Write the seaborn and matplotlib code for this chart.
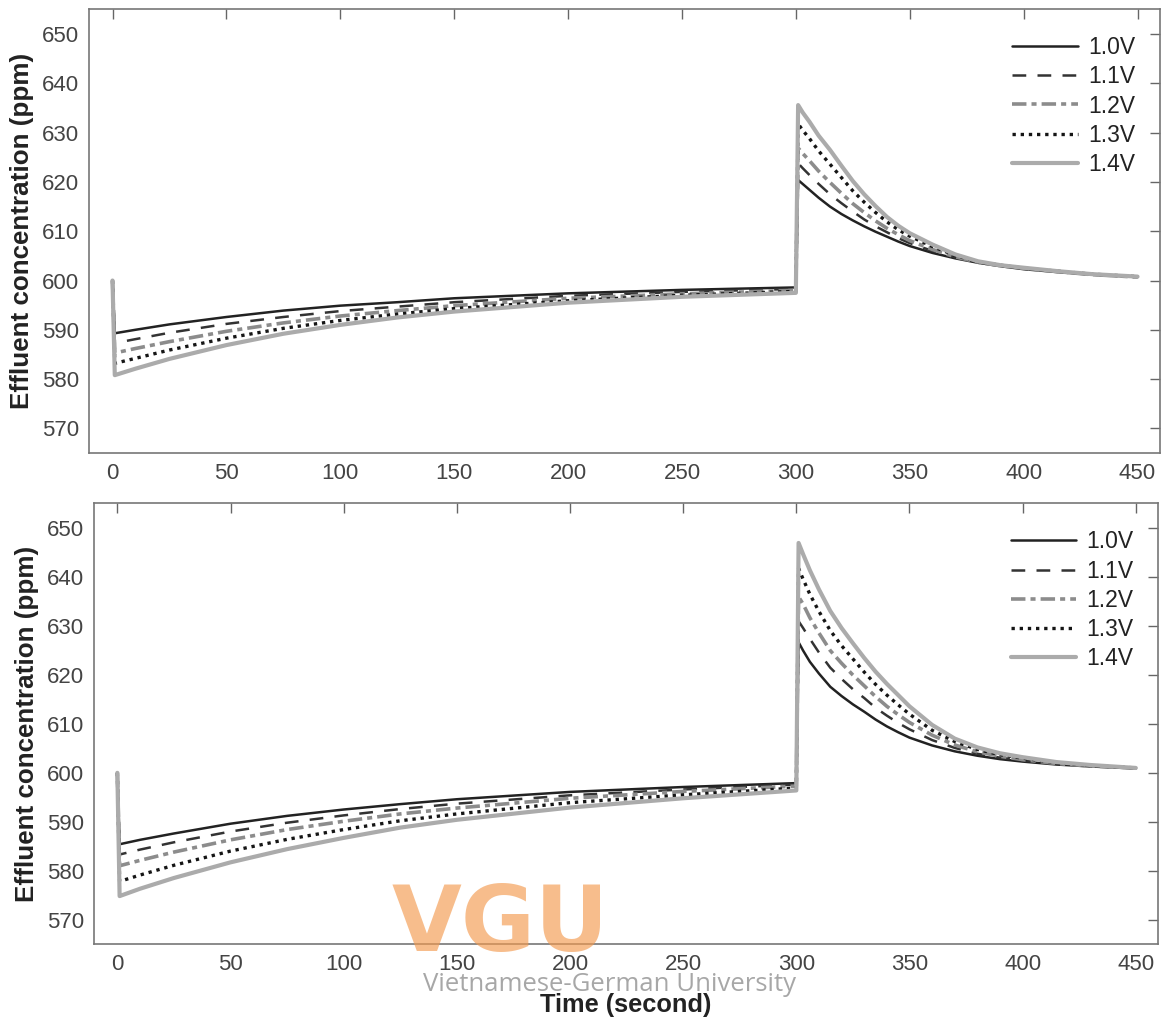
import matplotlib
matplotlib.use("Agg")
import matplotlib.pyplot as plt
import numpy as np
import pandas as pd
import seaborn as sns

# ---------------- data ----------------
time_s = [0, 1, 10, 25, 50, 75, 100, 125, 150, 200, 250, 300,
          301, 303, 306, 310, 315, 320, 325, 330, 335, 340, 345, 350,
          360, 370, 380, 390, 400, 415, 430, 450]

series_labels = ["1.0V", "1.1V", "1.2V", "1.3V", "1.4V"]

# upper panel
top_10 = [600, 589.3, 590.0, 591.1, 592.6, 593.9, 594.9, 595.6, 596.4, 597.4, 598.1, 598.6,
          620.4, 619.6, 618.4, 616.8, 615.0, 613.5, 612.2, 611.0, 609.9, 608.9, 607.9, 607.0,
          605.6, 604.5, 603.6, 602.9, 602.3, 601.7, 601.2, 600.7]
top_11 = [600, 587.3, 588.1, 589.4, 591.2, 592.6, 593.8, 594.7, 595.6, 596.9, 597.7, 598.3,
          623.8, 622.8, 621.4, 619.6, 617.5, 615.7, 614.0, 612.4, 611.0, 609.8, 608.6, 607.6,
          606.0, 604.7, 603.7, 603.0, 602.4, 601.8, 601.2, 600.7]
top_12 = [600, 585.3, 586.2, 587.6, 589.7, 591.4, 592.8, 593.9, 594.9, 596.4, 597.3, 598.0,
          626.9, 625.8, 624.3, 622.2, 619.9, 617.7, 615.6, 613.8, 612.1, 610.6, 609.3, 608.1,
          606.3, 604.8, 603.7, 603.0, 602.5, 601.8, 601.2, 600.7]
top_13 = [600, 583.2, 584.2, 585.9, 588.3, 590.3, 591.9, 593.2, 594.3, 595.9, 597.0, 597.8,
          631.8, 630.5, 628.8, 626.3, 623.6, 620.9, 618.2, 615.9, 613.8, 611.9, 610.3, 609.0,
          606.9, 605.1, 603.8, 603.1, 602.5, 601.9, 601.3, 600.8]
top_14 = [600, 580.8, 582.1, 584.1, 586.9, 589.2, 591.0, 592.5, 593.7, 595.5, 596.7, 597.5,
          635.6, 634.1, 632.2, 629.4, 626.5, 623.3, 620.2, 617.5, 615.1, 612.9, 611.1, 609.6,
          607.3, 605.3, 603.9, 603.1, 602.6, 601.9, 601.3, 600.8]

# lower panel
bot_10 = [600, 585.4, 586.3, 587.6, 589.6, 591.2, 592.5, 593.6, 594.6, 596.1, 597.1, 597.9,
          626.7, 625.0, 622.7, 620.3, 617.6, 615.7, 614.0, 612.5, 610.9, 609.5, 608.3, 607.2,
          605.6, 604.4, 603.5, 602.8, 602.3, 601.7, 601.3, 600.9]
bot_11 = [600, 583.3, 584.3, 585.8, 588.0, 589.8, 591.3, 592.6, 593.7, 595.4, 596.6, 597.6,
          631.0, 629.6, 627.4, 624.6, 621.5, 619.2, 617.1, 615.3, 613.3, 611.7, 610.2, 608.9,
          606.7, 605.1, 603.9, 603.1, 602.5, 601.8, 601.4, 600.9]
bot_12 = [600, 581.0, 582.1, 583.8, 586.3, 588.4, 590.1, 591.6, 592.8, 594.8, 596.2, 597.3,
          636.0, 634.5, 631.7, 628.6, 625.0, 622.4, 620.0, 617.8, 615.6, 613.6, 611.9, 610.3,
          607.7, 605.7, 604.3, 603.4, 602.7, 601.9, 601.4, 601.0]
bot_13 = [600, 577.8, 579.1, 581.1, 584.0, 586.4, 588.4, 590.2, 591.6, 593.9, 595.5, 596.9,
          641.8, 639.6, 636.5, 633.0, 629.1, 626.0, 623.3, 620.6, 618.1, 615.9, 613.9, 612.0,
          608.7, 606.4, 604.8, 603.7, 603.0, 602.1, 601.5, 601.0]
bot_14 = [600, 574.8, 576.3, 578.5, 581.7, 584.4, 586.7, 588.8, 590.4, 592.9, 594.8, 596.4,
          647.0, 644.7, 641.4, 637.5, 633.1, 629.6, 626.5, 623.5, 620.7, 618.2, 615.9, 613.6,
          609.8, 607.0, 605.2, 604.0, 603.2, 602.2, 601.6, 601.0]

x_ticks = [0, 50, 100, 150, 200, 250, 300, 350, 400, 450]
y_ticks = [570, 580, 590, 600, 610, 620, 630, 640, 650]

# ---------------- styles ----------------
styles = {
    "1.0V": dict(color="#222222", lw=1.8, ls="-"),
    "1.1V": dict(color="#333333", lw=1.8, ls=(0, (5.5, 4.5))),
    "1.2V": dict(color="#8c8c8c", lw=2.6, ls=(0, (4.0, 1.4, 1.4, 1.4))),
    "1.3V": dict(color="#151515", lw=2.4, ls=(0, (1.0, 1.45))),
    "1.4V": dict(color="#ababab", lw=3.0, ls="-"),
}

sns.set_style("white")
plt.rcParams["font.family"] = ["Liberation Sans", "DejaVu Sans"]

fig = plt.figure(figsize=(11.61, 10.21), dpi=100)
ax_top = fig.add_axes([0.0767, 0.5563, 0.9223, 0.4349])
ax_bot = fig.add_axes([0.0810, 0.0754, 0.9164, 0.4316])


def make_df(cols):
    frames = []
    for lab, vals in zip(series_labels, cols):
        frames.append(pd.DataFrame({"t": time_s, "v": vals, "series": lab}))
    return pd.concat(frames, ignore_index=True)


def draw(ax, cols):
    df = make_df(cols)
    for lab in series_labels:
        st = styles[lab]
        sub = df[df["series"] == lab]
        sns.lineplot(data=sub, x="t", y="v", ax=ax, color=st["color"],
                     linewidth=st["lw"], linestyle=st["ls"], label=lab,
                     estimator=None, sort=False)
    ax.set_xlim(-10.3, 459.8)
    ax.set_ylim(565, 655.1)
    ax.set_xticks(x_ticks)
    ax.set_yticks(y_ticks)
    ax.tick_params(direction="in", length=7, width=1, color="#666666",
                   labelsize=16, labelcolor="#444444",
                   top=True, right=True, pad=7)
    for sp in ax.spines.values():
        sp.set_color("#777777")
        sp.set_linewidth(1.2)
    ax.set_ylabel("Effluent concentration (ppm)", fontsize=18.7,
                  fontweight="bold", color="#222222", labelpad=6)
    ax.set_xlabel("")
    leg = ax.legend(loc="upper right", bbox_to_anchor=(0.992, 0.975), frameon=False,
                    fontsize=16.5, handlelength=2.85, labelspacing=0.27,
                    handletextpad=0.45, borderaxespad=0.3)
    for txt in leg.get_texts():
        txt.set_color("#222222")


draw(ax_top, [top_10, top_11, top_12, top_13, top_14])
draw(ax_bot, [bot_10, bot_11, bot_12, bot_13, bot_14])
ax_bot.set_xlabel("Time (second)", fontsize=18.3, fontweight="bold",
                  color="#222222", labelpad=13)

# watermark
fig.text(0.431, 0.093, "VGU", fontsize=65, fontweight="bold", color="#f39a4f",
         alpha=0.65, ha="center", va="center", family="DejaVu Sans", zorder=10)
fig.text(0.525, 0.036, "Vietnamese-German University", fontsize=18.5,
         color="#8a8a8a", alpha=0.75, ha="center", va="center",
         family="Open Sans", zorder=10)

fig.savefig("out.png", dpi=100)
